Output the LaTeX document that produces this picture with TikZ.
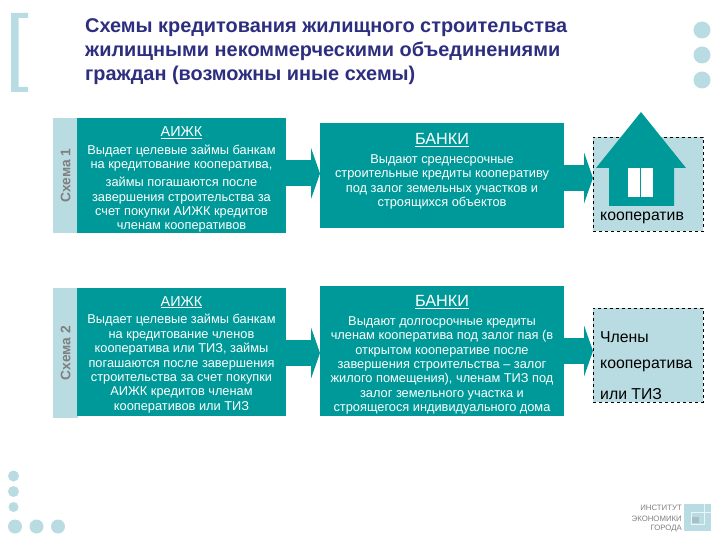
\documentclass[tikz,border=0pt]{standalone}
\usepackage{fontspec}
\setmainfont{Liberation Sans}
\usepackage{tikz}
\usetikzlibrary{arrows.meta,%
                positioning}
\definecolor{tealbox}{HTML}{009999}
\definecolor{paleblue}{HTML}{B9DCE3}
\definecolor{titleblue}{HTML}{2E2E80}
\definecolor{greytext}{HTML}{7F7F7F}
\tikzset{
  teal box/.style={fill=tealbox,text=white,inner sep=0pt,outer sep=0pt,align=center,
    font=\fontsize{12.8}{14.4}\selectfont},
  strip box/.style={fill=paleblue,inner sep=0pt,outer sep=0pt,minimum width=25,text=greytext},
  strip text/.style={rotate=90,text=greytext,font=\fontsize{13.8}{15}\selectfont\bfseries},
  dash box/.style={draw=black,dashed,fill=paleblue,inner sep=0pt,outer sep=0pt,minimum width=110,minimum height=94},
  block arrow/.style={draw=tealbox,line width=26pt,-{Triangle[length=9pt,width=51pt]}},
  pale dot/.style={circle,fill=paleblue,inner sep=0pt,outer sep=0pt},
  dash text/.style={anchor=west,inner sep=0pt,font=\fontsize{15.8}{18}\selectfont},
  logo text/.style={anchor=east,inner sep=0pt,text=greytext,font=\fontsize{7.8}{9}\selectfont},
}
\begin{document}
\begin{tikzpicture}[x=1pt,y=-1pt]
\useasboundingbox (0,0) rectangle (720,540);
\fill[paleblue] (11,13) -- (28,13) -- (28,18) -- (18.5,18) -- (18.5,87) -- (28,87) -- (28,92) -- (11,92) -- cycle;
\node[anchor=north west,inner sep=0pt,align=left,text=titleblue,font=\fontsize{19.9}{24}\selectfont\bfseries] (title) at (85,18)
  {Схемы кредитования жилищного строительства\\жилищными некоммерческими объединениями\\граждан (возможны иные схемы)};
\node[pale dot,minimum size=17] (dotA) at (702,30) {};
\node[pale dot,minimum size=17] (dotB) at (702,55) {};
\node[pale dot,minimum size=17] (dotC) at (702,80) {};

\node[strip box,minimum height=115] (stripA) at (65.5,175.5) {};
\node[strip text] (schemaA) at (stripA) {Схема 1};
\node[teal box,minimum width=209,minimum height=115] (aizkA) at (181.5,175.5)
  {\rule{0pt}{18pt}{\fontsize{14.4}{15}\selectfont\underline{АИЖК}}\\[3.5pt]
   Выдает целевые займы банкам\\на кредитование кооператива,\\[3.5pt]
   займы погашаются после\\завершения строительства за\\счет покупки АИЖК кредитов\\членам кооперативов};
\node[teal box,minimum width=244,minimum height=105] (bankA) at (442,175.5)
  {{\fontsize{16.2}{17}\selectfont\underline{БАНКИ}}\\[4.5pt]
   Выдают среднесрочные\\строительные кредиты кооперативу\\под залог земельных участков и\\строящихся объектов\\[-3.4pt]};
\node[dash box] (koopA) at (648,184.5) {};
\fill[tealbox] (641,112) -- (686,168) -- (674,168) -- (674,206) -- (609,206) -- (609,168) -- (596,168) -- cycle;
\fill[white] (628,168) rectangle (640,197);
\fill[white] (641,168) rectangle (653,197);
\node[dash text] (koopAtext) at (600,217.5) {кооператив};
\draw[block arrow] ([yshift=2pt]aizkA.east) -- ([yshift=2pt]bankA.west);
\draw[block arrow] ([yshift=-2.5pt]bankA.east) -- ([yshift=-2.5pt]bankA.east -| koopA.west);

\node[strip box,minimum height=130] (stripB) at (65.5,353) {};
\node[strip text] (schemaB) at (stripB) {Схема 2};
\node[teal box,minimum width=209,minimum height=128] (aizkB) at (181.5,352)
  {\rule{0pt}{15pt}{\fontsize{14.4}{15}\selectfont\underline{АИЖК}}\\[3.5pt]
   Выдает целевые займы банкам\\на кредитование членов\\кооператива или ТИЗ, займы\\погашаются  после завершения\\строительства за счет покупки\\АИЖК кредитов членам\\кооперативов или ТИЗ};
\node[teal box,minimum width=244,minimum height=130] (bankB) at (442,351)
  {\rule{0pt}{18.6pt}{\fontsize{16.2}{17}\selectfont\underline{БАНКИ}}\\[4.5pt]
   Выдают долгосрочные кредиты\\членам кооператива под залог пая (в\\открытом кооперативе после\\завершения строительства – залог\\жилого помещения), членам ТИЗ под\\залог земельного участка и\\строящегося индивидуального дома};
\node[dash box] (koopB) at (648,355) {};
\node[dash text] (koopBa) at (600,337) {Члены};
\node[dash text] (koopBb) at (600,365.5) {кооператива};
\node[dash text] (koopBc) at (600,394) {или ТИЗ};
\draw[block arrow] ([yshift=-1pt]aizkB.east) -- ([yshift=-1pt]aizkB.east -| bankB.west);
\draw[block arrow] (bankB.east) -- (bankB.east -| koopB.west);

\node[pale dot,minimum size=11] (dotD) at (13.5,476) {};
\node[pale dot,minimum size=11] (dotE) at (13.5,491.5) {};
\node[pale dot,minimum size=10] (dotF) at (13.5,507) {};
\node[pale dot,minimum size=14] (dotG) at (15,526.5) {};
\node[pale dot,minimum size=14] (dotH) at (36.5,526.5) {};
\node[pale dot,minimum size=14] (dotI) at (58,526.5) {};

\fill[paleblue] (684,504) rectangle (711,531);
\draw[white!70!paleblue] (704,504) -- (704,512);
\draw[white!70!paleblue] (691,512) -- (711,512);
\draw[white!70!paleblue] (704,512) -- (704,524) -- (691,524) -- (691,512);
\fill[paleblue!70!gray] (692,517) rectangle (699,523);
\node[logo text] (logoA) at (682,508) {ИНСТИТУТ};
\node[logo text] (logoB) at (682,518.5) {ЭКОНОМИКИ};
\node[logo text] (logoC) at (682,529) {ГОРОДА};
\end{tikzpicture}
\end{document}
